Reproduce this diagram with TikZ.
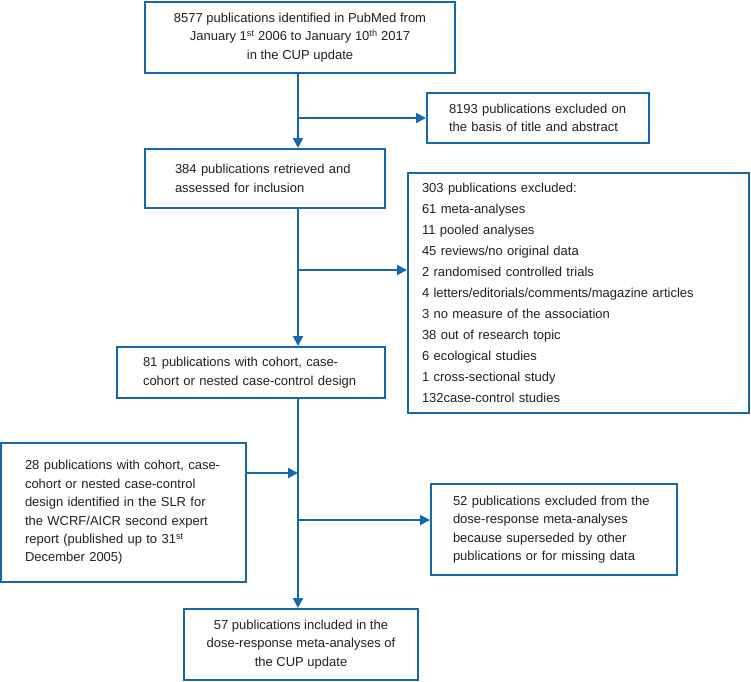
\documentclass[tikz,border=0pt]{standalone}
\usepackage{fontspec}
\setmainfont{Liberation Sans}
\usetikzlibrary{arrows.meta}
\definecolor{flowblue}{RGB}{22,104,172}
\definecolor{txt}{RGB}{35,31,32}
\begin{document}
\begin{tikzpicture}[x=1pt,y=-1pt,
  box/.style={draw=flowblue, line width=2pt, rectangle, text=txt, inner ysep=0pt,
              font={\fontsize{13}{18.4}\selectfont}},
  arr/.style={draw=flowblue, line width=2pt, -{Triangle[length=10pt,width=10pt]}}]
\useasboundingbox (0,0) rectangle (751,681);
% boxes
\node[box, minimum width=310pt, minimum height=71pt, align=center] (b1) at (300,37.5)
  {8577 publications identified in PubMed from\\
   January 1\textsuperscript{st} 2006 to January 10\textsuperscript{th} 2017\\
   in the CUP update};
\node[box, minimum width=222pt, minimum height=50pt, inner xsep=22pt, text width=178pt, align=left] (b2) at (538,118)
  {8193 publications excluded on\\ the basis of title and abstract};
\node[box, minimum width=240pt, minimum height=59pt, inner xsep=30pt, text width=180pt, align=left] (b3) at (265,178.5)
  {384 publications retrieved and\\ assessed for inclusion};
\node[box, minimum width=341pt, minimum height=240pt, inner xsep=14pt, text width=313pt, align=left,
      font={\fontsize{13}{21}\selectfont}] (b4) at (578.5,293)
  {303 publications excluded:\\
   61 meta-analyses\\
   11 pooled analyses\\
   45 reviews/no original data\\
   2 randomised controlled trials\\
   4 letters/editorials/comments/magazine articles\\
   3 no measure of the association\\
   38 out of research topic\\
   6 ecological studies\\
   1 cross-sectional study\\
   132case-control studies};
\node[box, minimum width=268pt, minimum height=51pt, inner xsep=26pt, text width=216pt, align=left] (b5) at (251,372.5)
  {81 publications with cohort, case-\\ cohort or nested case-control design};
\node[box, minimum width=245pt, minimum height=139pt, inner xsep=24pt, text width=197pt, align=left] (b6) at (123.5,512.5)
  {28 publications with cohort, case-\\
   cohort or nested case-control\\
   design identified in the SLR for\\
   the WCRF/AICR second expert\\
   report (published up to 31\textsuperscript{st}\\
   December 2005)};
\node[box, minimum width=246pt, minimum height=91pt, inner xsep=22pt, text width=202pt, align=left] (b7) at (554,529.5)
  {52 publications excluded from the\\
   dose-response meta-analyses\\
   because superseded by other\\
   publications or for missing data};
\node[box, minimum width=234pt, minimum height=71pt, align=center] (b8) at (301,644.5)
  {57 publications included in the\\
   dose-response meta-analyses of\\
   the CUP update};
% spine and junctions
\coordinate (sx) at (298,0);
\coordinate (j1) at (298,118);
\coordinate (j2) at (298,270);
\coordinate (j3) at (298,473);
\coordinate (j4) at (298,520);
% connectors
\draw[arr] (b1.south -| sx) -- (b3.north -| sx);
\draw[arr] (j1) -- (b2.west);
\draw[arr] (b3.south -| sx) -- (b5.north -| sx);
\draw[arr] (j2) -- (j2 -| b4.west);
\draw[arr] (b5.south -| sx) -- (b8.north -| sx);
\draw[arr] (b6.east |- j3) -- (j3);
\draw[arr] (j4) -- (j4 -| b7.west);
\end{tikzpicture}
\end{document}
